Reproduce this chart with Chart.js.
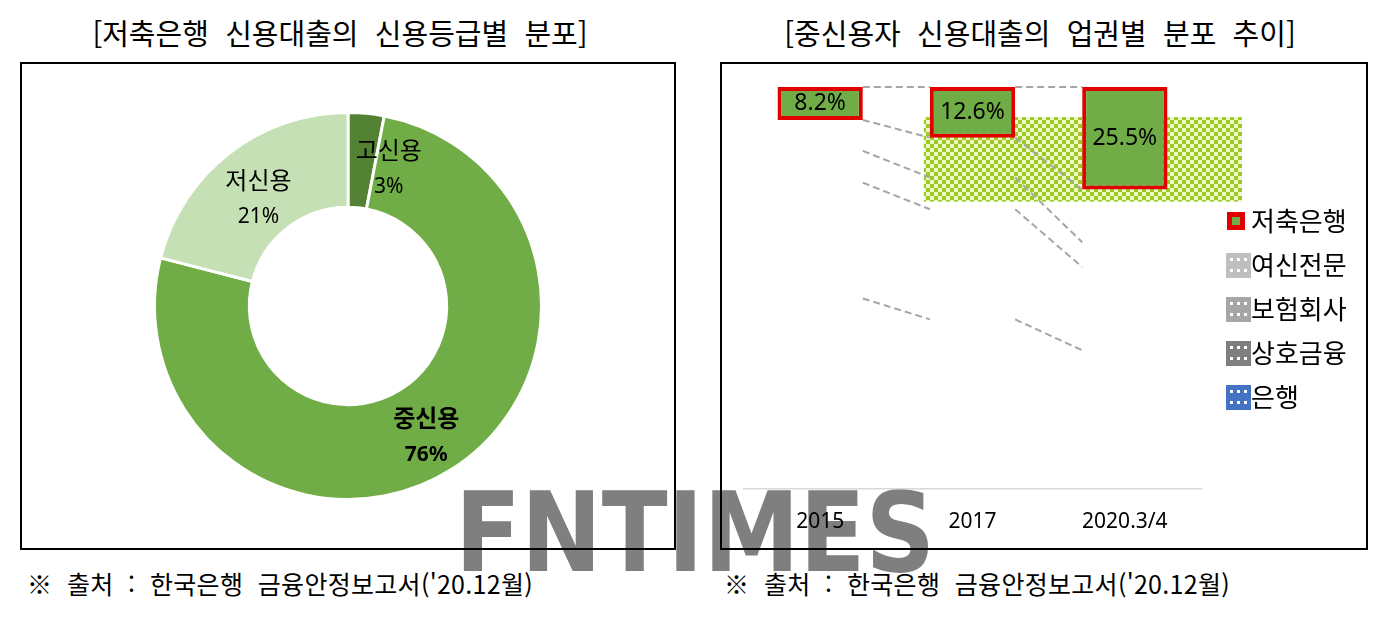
<!DOCTYPE html>
<html lang="ko">
<head>
<meta charset="utf-8">
<script src="https://cdn.jsdelivr.net/npm/chart.js@4.4.0/dist/chart.umd.min.js"></script>
<style>
  body { margin: 0; width: 1390px; height: 642px; background: #fff; position: relative; overflow: hidden;
         font-family: "Noto Sans CJK KR", sans-serif; color: #000; }
  .title { position: absolute; top: 12px; height: 40px; line-height: 40px; font-size: 29px; text-align: center; white-space: pre; }
  .note { position: absolute; top: 566px; line-height: 34px; font-size: 25px; white-space: pre; letter-spacing: 0.3px; }
  .box { position: absolute; top: 62px; border: 2px solid #000; z-index: 2; background: transparent; }
  .box canvas { display: block; }
  #mark { position: absolute; left: 455px; top: 477px; font: bold 110px/112px "DejaVu Sans", sans-serif;
          color: #7f7f7f; white-space: pre; transform-origin: 0 0; z-index: 1; }
</style>
</head>
<body>
<div class="title" style="left:0;width:680px">[저축은행  신용대출의  신용등급별  분포]</div>
<div class="title" style="left:700px;width:680px">[중신용자  신용대출의  업권별  분포  추이]</div>
<div id="mark">FNTIMES</div>
<div class="box" style="left:20px;width:652px;height:484px"><canvas id="grade" width="652" height="484"></canvas></div>
<div class="box" style="left:720px;width:644px;height:484px"><canvas id="sector" width="644" height="484"></canvas></div>
<div class="note" style="left:27px">※  출처  :  한국은행  금융안정보고서('20.12월)</div>
<div class="note" style="left:724px">※  출처  :  한국은행  금융안정보고서('20.12월)</div>
<script>
// left: 저축은행 신용대출 신용등급별 분포 (%)
const gradeLabels = ['고신용', '중신용', '저신용'];
const gradeShares = [3, 76, 21];

// right: 중신용자 신용대출 업권별 분포 (%), stacked bottom -> top
const periods = ['2015', '2017', '2020.3/4'];
const bankShare = [47.4, 42.2, 34.5];
const mutualShare = [28.8, 27.4, 20.7];
const insuranceShare = [7.9, 7.9, 6.2];
const cardShare = [7.7, 9.9, 13.1];
const savingsShare = [8.2, 12.6, 25.5];
const sectorNames = ['은행', '상호금융', '보험회사', '여신전문', '저축은행'];

const KR = '"Noto Sans CJK KR", sans-serif';
const NUM = '"Noto Sans", "Noto Sans CJK KR", sans-serif';

// fit the watermark width
const mark = document.getElementById('mark');
mark.style.transform = 'scaleX(' + (480 / mark.offsetWidth) + ')';

const sliceLabels = {
  id: 'sliceLabels',
  afterDatasetsDraw(chart) {
    const { ctx } = chart;
    chart.getDatasetMeta(0).data.forEach((arc, i) => {
      const p = arc.tooltipPosition();
      const x = p.x + (gradeShares[i] < 5 ? 27 : 0);
      const y = p.y + 7;
      ctx.save();
      ctx.fillStyle = '#000';
      ctx.textAlign = 'center';
      ctx.textBaseline = 'middle';
      const weight = i === 1 ? 'bold ' : '';
      ctx.font = weight + '24px ' + KR;
      ctx.fillText(gradeLabels[i], x, y - 18);
      ctx.font = weight + '21px ' + NUM;
      ctx.fillText(gradeShares[i] + '%', x, y + 19);
      ctx.restore();
    });
  },
};

new Chart(document.getElementById('grade'), {
  type: 'doughnut',
  data: {
    labels: gradeLabels,
    datasets: [{
      data: gradeShares,
      backgroundColor: ['#548235', '#70AD47', '#C5E0B4'],
      borderColor: '#fff',
      borderWidth: 3,
    }],
  },
  options: {
    responsive: false,
    animation: false,
    cutout: '51%',
    layout: { padding: 47 },
    plugins: { legend: { display: false }, tooltip: { enabled: false } },
  },
  plugins: [sliceLabels],
});

function checker(ctx) {
  const c = document.createElement('canvas');
  c.width = 8; c.height = 8;
  const g = c.getContext('2d');
  g.fillStyle = '#EEF8C6'; g.fillRect(0, 0, 8, 8);
  g.fillStyle = '#9BCB22'; g.fillRect(0, 0, 4, 4); g.fillRect(4, 4, 4, 4);
  return ctx.createPattern(c, 'repeat');
}

const legendSwatch = ['#4472C4', '#7F7F7F', '#A6A6A6', '#BFBFBF', null];

const seriesLines = {
  id: 'seriesLines',
  beforeDatasetsDraw(chart) {
    const { ctx, chartArea, scales: { y } } = chart;
    const metas = chart.data.datasets.map((d, i) => chart.getDatasetMeta(i));
    const topBars = metas[metas.length - 1].data;
    const x0 = topBars[1].x - topBars[1].width / 2 - 6;
    const x1 = chartArea.right + 41;
    const y0 = y.getPixelForValue(92.5);
    const y1 = y.getPixelForValue(71.5);
    ctx.save();
    ctx.fillStyle = checker(ctx);
    ctx.fillRect(x0, y0, x1 - x0, y1 - y0);
    ctx.setLineDash([7, 4]);
    ctx.strokeStyle = '#A6A6A6';
    ctx.lineWidth = 2;
    metas.forEach((meta) => {
      for (let i = 0; i < meta.data.length - 1; i++) {
        const a = meta.data[i];
        const b = meta.data[i + 1];
        ctx.beginPath();
        ctx.moveTo(a.x + a.width / 2, a.y);
        ctx.lineTo(b.x - b.width / 2, b.y);
        ctx.stroke();
      }
    });
    ctx.restore();
  },
  afterDatasetsDraw(chart) {
    const { ctx } = chart;
    const last = chart.data.datasets.length - 1;
    ctx.save();
    ctx.fillStyle = '#000';
    ctx.textAlign = 'center';
    ctx.textBaseline = 'middle';
    ctx.font = '23px ' + NUM;
    chart.getDatasetMeta(last).data.forEach((bar, i) => {
      ctx.fillText(savingsShare[i].toFixed(1) + '%', bar.x, (bar.y + bar.base) / 2);
    });
    ctx.restore();
  },
  afterDraw(chart) {
    const { ctx, chartArea } = chart;
    const left = chartArea.right + 25;
    ctx.save();
    ctx.textBaseline = 'middle';
    ctx.font = '26px ' + KR;
    for (let k = 0; k < sectorNames.length; k++) {
      const idx = sectorNames.length - 1 - k;
      const cy = chartArea.top + 134 + k * 44;
      const color = legendSwatch[idx];
      if (color === null) {
        ctx.fillStyle = '#E00000';
        ctx.fillRect(left + 1, cy - 9, 18, 18);
        ctx.fillStyle = '#70AD47';
        ctx.fillRect(left + 6, cy - 4, 8, 8);
      } else {
        ctx.fillStyle = color;
        ctx.fillRect(left, cy - 12, 25, 25);
        ctx.fillStyle = '#fff';
        [4, 11, 18].forEach((dx) => [5, 16].forEach((dy) => ctx.fillRect(left + dx, cy - 12 + dy, 3, 3)));
      }
      ctx.fillStyle = '#000';
      ctx.fillText(sectorNames[idx], left + 25, cy);
    }
    ctx.restore();
  },
};

const shares = [bankShare, mutualShare, insuranceShare, cardShare, savingsShare];

new Chart(document.getElementById('sector'), {
  type: 'bar',
  data: {
    labels: periods,
    datasets: sectorNames.map((name, i) => {
      const top = i === sectorNames.length - 1;
      return {
        label: name,
        data: shares[i],
        backgroundColor: top ? '#70AD47' : 'rgba(0,0,0,0)',
        borderColor: top ? '#E00000' : 'rgba(0,0,0,0)',
        borderWidth: top ? 4 : 0,
        borderSkipped: false,
        barPercentage: 0.56,
        categoryPercentage: 1,
      };
    }),
  },
  options: {
    responsive: false,
    animation: false,
    layout: { padding: { left: 22, right: 165, top: 23, bottom: 0 } },
    scales: {
      x: {
        stacked: true,
        grid: { display: false, drawTicks: false },
        border: { color: '#D9D9D9', width: 1.5 },
        ticks: { color: '#000', font: { family: NUM, size: 21 }, padding: 20 },
        afterFit(axis) { axis.height = 59; },
      },
      y: { stacked: true, min: 0, max: 100, display: false },
    },
    plugins: { legend: { display: false }, tooltip: { enabled: false } },
  },
  plugins: [seriesLines],
});
</script>
</body>
</html>
